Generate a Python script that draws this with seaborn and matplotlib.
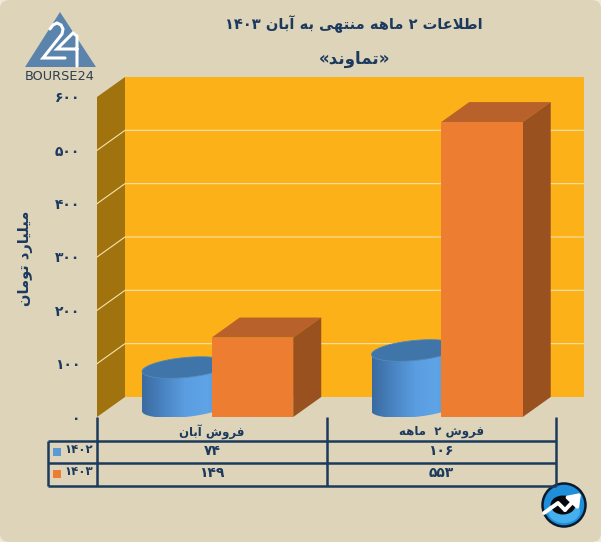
import re
import numpy as np
import pandas as pd
import matplotlib
matplotlib.use("Agg")
import matplotlib.pyplot as plt
import seaborn as sns
from matplotlib.colors import LinearSegmentedColormap
from matplotlib.patches import Polygon, Ellipse, Circle, FancyBboxPatch, Rectangle, PathPatch
from matplotlib.path import Path

categories = ["فروش آبان", "فروش ۲  ماهه"]
series_names = ["۱۴۰۲", "۱۴۰۳"]
values_1402 = [74, 106]
values_1403 = [149, 553]
y_ticks = [0, 100, 200, 300, 400, 500, 600]
title_text = "اطلاعات ۲ ماهه منتهی به آبان ۱۴۰۳"
subtitle_text = "«تماوند»"
ylabel_text = "میلیارد تومان"

NAVY = "#1c3a5e"
BG = "#ded4ba"

FORMS = {
    "ا": "\uFE8D\uFE8E", "آ": "\uFE81\uFE82", "د": "\uFEA9\uFEAA", "ر": "\uFEAD\uFEAE", "و": "\uFEED\uFEEE",
    "ب": "\uFE8F\uFE90\uFE91\uFE92", "ت": "\uFE95\uFE96\uFE97\uFE98", "ش": "\uFEB5\uFEB6\uFEB7\uFEB8",
    "ط": "\uFEC1\uFEC2\uFEC3\uFEC4", "ع": "\uFEC9\uFECA\uFECB\uFECC", "ف": "\uFED1\uFED2\uFED3\uFED4",
    "ل": "\uFEDD\uFEDE\uFEDF\uFEE0", "م": "\uFEE1\uFEE2\uFEE3\uFEE4", "ن": "\uFEE5\uFEE6\uFEE7\uFEE8",
    "ه": "\uFEE9\uFEEA\uFEEB\uFEEC", "ی": "\uFBFC\uFBFD\uFBFE\uFBFF",
}


def shape(text):
    """Give Persian text its joined letter forms and visual order (matplotlib has no shaper)."""
    text = text.replace("لا", "\uE000")
    out = []
    n = len(text)
    for i, c in enumerate(text):
        prev = text[i - 1] if i else ""
        nxt = text[i + 1] if i + 1 < n else ""
        joins_prev = prev in FORMS and len(FORMS[prev]) == 4
        joins_next = nxt in FORMS or nxt == "\uE000"
        if c == "\uE000":
            out.append("\uFEFC" if joins_prev else "\uFEFB")
        elif c in FORMS:
            f = FORMS[c]
            if len(f) == 2:
                out.append(f[1] if joins_prev else f[0])
            elif joins_prev and joins_next:
                out.append(f[3])
            elif joins_prev:
                out.append(f[1])
            elif joins_next:
                out.append(f[2])
            else:
                out.append(f[0])
        else:
            out.append({"«": "»", "»": "«"}.get(c, c))
    vis = "".join(out)
    parts = re.findall(r"[۰-۹]+|[^۰-۹]+", vis)
    return "".join(p if p[0] in "۰۱۲۳۴۵۶۷۸۹" else p[::-1] for p in parts[::-1])


def fa_num(v):
    return str(v).translate(str.maketrans("0123456789", "۰۱۲۳۴۵۶۷۸۹"))


sns.set_theme(style="white")
plt.rcParams["font.family"] = ["DejaVu Sans"]
plt.rcParams["font.weight"] = "bold"

W, H = 601, 542
fig = plt.figure(figsize=(W / 100, H / 100), dpi=100, facecolor="#efe9d9")
fig.patches.append(FancyBboxPatch((0, 0), 1, 1,
                                  boxstyle="round,pad=0.0,rounding_size=0.016",
                                  transform=fig.transFigure, fc=BG, ec="none"))

ax = fig.add_axes([97 / W, (H - 417) / H, 459 / W, 320 / H], facecolor="none", zorder=2)
df = pd.DataFrame({
    "cat": categories * 2,
    "year": [series_names[0]] * 2 + [series_names[1]] * 2,
    "value": values_1402 + values_1403,
})
sns.barplot(data=df, x="cat", y="value", hue="year", hue_order=series_names,
            palette=["#5b9bd5", "#ed7d31"], width=0.71, gap=0, saturation=1,
            legend=False, ax=ax, zorder=6, edgecolor="none", linewidth=0)
ax.set_xlim(-0.5, 1.5)
ax.set_ylim(0, 600)

dx = 28 / (459 / 2)
dy = 20 / (320 / 600)

# back wall, side wall, gridlines
x0, x1 = ax.get_xlim()
ymax = ax.get_ylim()[1]
ax.add_patch(Polygon([(x0 + dx, dy), (x1 + dx, dy), (x1 + dx, ymax + dy), (x0 + dx, ymax + dy)],
                     fc="#fbb117", ec="none", clip_on=False, zorder=0))
ax.add_patch(Polygon([(x0, 0), (x0 + dx, dy), (x0 + dx, ymax + dy), (x0, ymax)],
                     fc="#a0730e", ec="none", clip_on=False, zorder=0))
for t in y_ticks[1:-1]:
    ax.plot([x0, x0 + dx, x1 + dx], [t, t + dy, t + dy], color="#f6e3ae", lw=0.8,
            clip_on=False, zorder=1)

blue_cmap = LinearSegmentedColormap.from_list("b", ["#3a6ba0", "#4a84c2", "#5a9de0", "#5fa4e6", "#5596d6"])
grad = np.linspace(0, 1, 128).reshape(1, -1)
blue_bars, orange_bars = ax.containers[0], ax.containers[1]
semi_x = 43 / (459 / 2)
semi_y = 10 / (320 / 600)
tilt = 4 / (320 / 600)

for p in blue_bars:
    cx = p.get_x() + p.get_width() / 2 + dx / 2
    h = p.get_height()
    p.set_visible(False)
    base = dy / 2
    # lower half of the base rim, then up and back along the top rim
    th = np.linspace(np.pi, 2 * np.pi, 60)
    bx = cx + semi_x * np.cos(th)
    by = base + semi_y * np.sin(th) + tilt * np.cos(th)
    th2 = np.linspace(2 * np.pi, np.pi, 60)
    tx = cx + semi_x * np.cos(th2)
    ty = base + h + semi_y * np.sin(th2) + tilt * np.cos(th2)
    verts = list(zip(bx, by)) + list(zip(tx, ty)) + [(bx[0], by[0])]
    clip = PathPatch(Path(verts), transform=ax.transData, fc="none", ec="none")
    ax.add_patch(clip)
    im = ax.imshow(grad, cmap=blue_cmap, extent=(cx - semi_x, cx + semi_x, base - semi_y - tilt, base + h + tilt),
                   aspect="auto", zorder=3)
    im.set_clip_path(clip)
    th3 = np.linspace(0, 2 * np.pi, 120)
    ax.add_patch(Polygon(np.column_stack([cx + semi_x * np.cos(th3),
                                          base + h + semi_y * np.sin(th3) + tilt * np.cos(th3)]),
                         fc="#3f75a8", ec="#4d86bd", lw=0.6, clip_on=False, zorder=4))

for p in orange_bars:
    a, w, h = p.get_x(), p.get_width(), p.get_height()
    ax.add_patch(Polygon([(a, h), (a + w, h), (a + w + dx, h + dy), (a + dx, h + dy)],
                         fc="#b8612a", ec="none", clip_on=False, zorder=5))
    ax.add_patch(Polygon([(a + w, 0), (a + w + dx, dy), (a + w + dx, h + dy), (a + w, h)],
                         fc="#99521f", ec="none", clip_on=False, zorder=5))

ax.set_xlim(-0.5, 1.5)
ax.set_ylim(0, 600)
ax.set_yticks(y_ticks, [fa_num(t) for t in y_ticks], color=NAVY, fontsize=10, fontweight="bold")
ax.set_xticks([0, 1], [shape(c) for c in categories], color=NAVY, fontsize=8.5, fontweight="bold")
ax.tick_params(axis="y", length=0, pad=12)
ax.tick_params(axis="x", length=0, pad=6)
ax.set_xlabel("")
ax.set_ylabel(shape(ylabel_text), color=NAVY, fontsize=10.5, fontweight="bold")
ax.yaxis.set_label_coords(-64 / 459, (417 - 258) / 320)
for s in ax.spines.values():
    s.set_visible(False)

# pixel-space layer: title, data table, logos
ov = fig.add_axes([0, 0, 1, 1], facecolor="none", zorder=3)
ov.set_xlim(0, W)
ov.set_ylim(H, 0)
ov.axis("off")

ov.text(354, 24, shape(title_text), color=NAVY, fontsize=10.5, ha="center", va="center", fontweight="bold")
ov.text(354, 59, shape(subtitle_text), color=NAVY, fontsize=12, ha="center", va="center", fontweight="bold")

lw = 1.8
for x, top in [(48, 441), (97, 417), (327, 417), (556, 417)]:
    ov.plot([x, x], [top, 486], color=NAVY, lw=lw, solid_capstyle="butt")
for y in (441, 463, 486):
    ov.plot([48, 556], [y, y], color=NAVY, lw=lw, solid_capstyle="butt")

for y, name, vals, col in [(451, series_names[0], values_1402, "#5b9bd5"),
                           (473, series_names[1], values_1403, "#ed7d31")]:
    ov.add_patch(Rectangle((53, y - 3), 8, 8, fc=col, ec="none"))
    ov.text(79, y - 1.5, name, color=NAVY, fontsize=8.5, ha="center", va="center", fontweight="bold")
    ov.text(212, y, fa_num(vals[0]), color=NAVY, fontsize=10, ha="center", va="center", fontweight="bold")
    ov.text(441, y, fa_num(vals[1]), color=NAVY, fontsize=10, ha="center", va="center", fontweight="bold")

# logo top-left
ov.add_patch(Polygon([(60, 12), (25, 67), (96, 67)], fc="#5b84ad", ec="none"))
ov.plot([50, 53, 57, 61, 63, 62, 43, 65], [29, 25, 23, 25, 29, 34, 58, 58], color="white", lw=2.2,
        solid_joinstyle="miter")
ov.plot([77, 77, 73, 57, 77], [66, 36, 33, 49, 49], color="white", lw=2.2, solid_joinstyle="miter")
ov.text(60, 76, "BOURSE24", color="#2f3f52", fontsize=9.3, ha="center", va="center", fontweight="normal")

# icon bottom-right
ov.add_patch(Circle((564, 505), 21.5, fc="#1f8fdc", ec="#0b1a2c", lw=1.8))
ov.add_patch(Ellipse((564, 511), 32, 24, fc="#45b0ee", ec="none"))
ov.add_patch(Ellipse((563, 505), 25, 19, fc="#07090c", ec="none"))
ov.annotate("", xy=(581, 493), xytext=(565, 510),
            arrowprops=dict(arrowstyle="-|>,head_length=0.55,head_width=0.4", color="white", lw=2.8, shrinkA=0, shrinkB=0))
ov.plot([544, 558, 565], [513, 503, 510], color="white", lw=2.8)

fig.savefig("out.png", dpi=100, facecolor=fig.get_facecolor())
